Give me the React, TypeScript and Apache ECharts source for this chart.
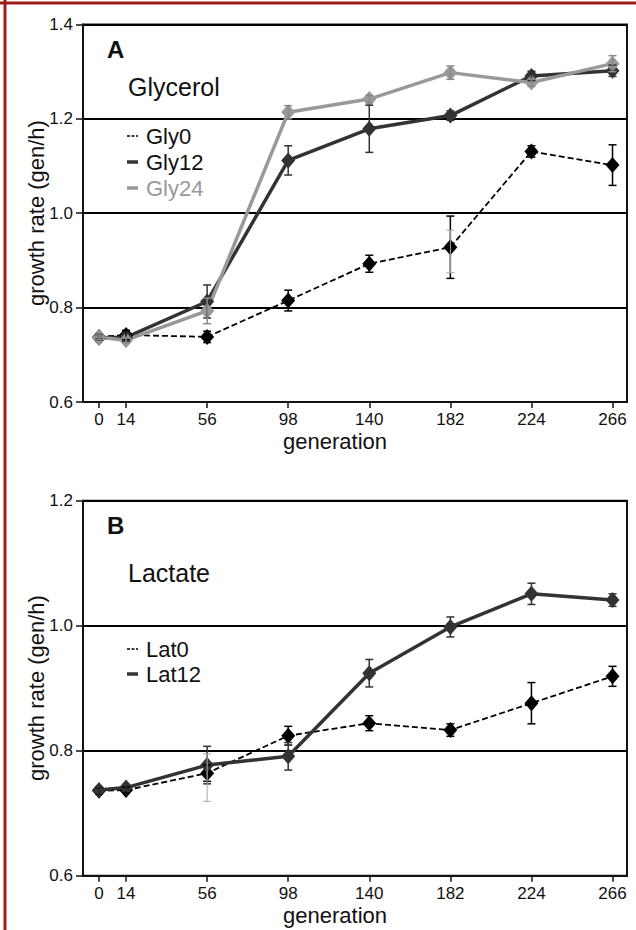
import React, { useEffect, useRef } from "react";
import * as echarts from "echarts";

const generations = [0, 14, 56, 98, 140, 182, 224, 266];
const xTickValues = [0, 14, 56, 98, 140, 182, 224, 266];

// Panel A (glycerol)
const gly0 = [0.738, 0.742, 0.738, 0.815, 0.893, 0.928, 1.131, 1.102];
const gly0Err = [0.005, 0.01, 0.012, 0.022, 0.018, 0.066, 0.012, 0.043];
const gly12 = [0.736, 0.737, 0.813, 1.112, 1.179, 1.207, 1.291, 1.302];
const gly12Err = [0.005, 0.008, 0.035, 0.031, 0.05, 0.01, 0.01, 0.012];
const gly24 = [0.737, 0.731, 0.793, 1.214, 1.242, 1.298, 1.277, 1.317];
const gly24Err = [0.005, 0.006, 0.027, 0.014, 0.008, 0.014, 0.008, 0.017];
// faint extra error bars seen in panel A
const glyExtraGen = [182];
const glyExtraLo = [0.874];
const glyExtraHi = [0.964];

// Panel B (lactate)
const lat0 = [0.736, 0.737, 0.764, 0.824, 0.844, 0.833, 0.876, 0.919];
const lat0Err = [0.005, 0.005, 0.013, 0.015, 0.012, 0.01, 0.033, 0.016];
const lat12 = [0.737, 0.741, 0.777, 0.791, 0.924, 0.998, 1.051, 1.041];
const lat12Err = [0.005, 0.005, 0.03, 0.022, 0.022, 0.016, 0.017, 0.01];
const latExtraGen = [56];
const latExtraLo = [0.719];
const latExtraHi = [0.795];

const FONT = "'Liberation Sans', Arial, sans-serif";
const DARK = "#333333";
const GRAY = "#999999";

function errData(vals: number[], errs: number[]) {
  return generations.map((g, i) => [g, vals[i] - errs[i], vals[i] + errs[i]]);
}

function errSeries(data: number[][], idx: number, color: string, width = 1.5) {
  return {
    type: "custom",
    xAxisIndex: idx,
    yAxisIndex: idx,
    z: 5,
    encode: { x: 0, y: [1, 2] },
    data,
    renderItem: (params: any, api: any) => {
      const x = api.value(0);
      const lo = api.value(1);
      const hi = api.value(2);
      const p1 = api.coord([x, hi]);
      const p2 = api.coord([x, lo]);
      const h = 4;
      const st = { stroke: color, lineWidth: width };
      return {
        type: "group",
        children: [
          { type: "line", shape: { x1: p1[0], y1: p1[1], x2: p2[0], y2: p2[1] }, style: st },
          { type: "line", shape: { x1: p1[0] - h, y1: p1[1], x2: p1[0] + h, y2: p1[1] }, style: st },
          { type: "line", shape: { x1: p2[0] - h, y1: p2[1], x2: p2[0] + h, y2: p2[1] }, style: st },
        ],
      };
    },
  };
}

function lineSeries(name: string, vals: number[], idx: number, color: string, dashed: boolean, symColor: string) {
  return {
    name,
    type: "line",
    xAxisIndex: idx,
    yAxisIndex: idx,
    data: generations.map((g, i) => [g, vals[i]]),
    symbol: "diamond",
    symbolSize: [14, 16],
    showSymbol: true,
    itemStyle: { color: symColor, borderWidth: 0 },
    lineStyle: dashed
      ? { color: "#000", width: 1.8, type: [6, 3] }
      : { color, width: 3.5 },
    z: 3,
  };
}

function txt(text: string, x: number, y: number, size: number, opts: any = {}) {
  return {
    type: "text",
    x,
    y,
    z: 10,
    rotation: opts.rotation || 0,
    style: {
      text,
      fill: opts.color || "#111",
      font: `${opts.bold ? "bold " : ""}${size}px ${FONT}`,
      align: opts.align || "left",
      verticalAlign: "middle",
    },
  };
}

function seg(x1: number, y1: number, x2: number, y2: number, color: string, w: number, dash?: number[]) {
  return {
    type: "line",
    z: 10,
    shape: { x1, y1, x2, y2 },
    style: { stroke: color, lineWidth: w, lineDash: dash },
  };
}

export default function App() {
  const ref = useRef<HTMLDivElement>(null);
  useEffect(() => {
    document.body.style.margin = "0";
    const chart = echarts.init(ref.current!, undefined, { renderer: "svg" });
    const xAxisBase = (gi: number) => ({
      type: "value",
      gridIndex: gi,
      min: -8.3,
      max: 273.5,
      axisLine: { show: true, onZero: false, lineStyle: { color: "#111", width: 2 } },
      axisTick: { show: true, customValues: xTickValues, length: 6, lineStyle: { color: "#111", width: 1.5 } },
      axisLabel: { show: true, customValues: xTickValues, margin: 9, fontSize: 17, color: "#111", fontFamily: FONT },
      splitLine: { show: false },
    });
    const yAxisBase = (gi: number, min: number, max: number) => ({
      type: "value",
      gridIndex: gi,
      min,
      max,
      interval: 0.2,
      axisLine: { show: true, onZero: false, lineStyle: { color: "#111", width: 2 } },
      axisTick: { show: true, length: 7, lineStyle: { color: "#111", width: 1.5 } },
      axisLabel: {
        margin: 10,
        fontSize: 17,
        color: "#111",
        fontFamily: FONT,
        formatter: (v: number) => v.toFixed(1),
      },
      splitLine: { show: true, lineStyle: { color: "#000", width: 2 } },
    });

    const option: any = {
      animation: false,
      backgroundColor: "#fff",
      grid: [
        { left: 83, top: 24.5, width: 544, height: 377.5, show: true, borderColor: "#111", borderWidth: 2 },
        { left: 83, top: 500.7, width: 544, height: 375, show: true, borderColor: "#111", borderWidth: 2 },
      ],
      xAxis: [xAxisBase(0), xAxisBase(1)],
      yAxis: [yAxisBase(0, 0.6, 1.4), yAxisBase(1, 0.6, 1.2)],
      series: [
        lineSeries("Gly0", gly0, 0, "#000", true, "#000"),
        lineSeries("Gly12", gly12, 0, DARK, false, DARK),
        lineSeries("Gly24", gly24, 0, GRAY, false, GRAY),
        errSeries(errData(gly0, gly0Err), 0, "#000"),
        errSeries(errData(gly12, gly12Err), 0, DARK),
        errSeries(errData(gly24, gly24Err), 0, "#8a8a8a"),
        errSeries(glyExtraGen.map((g, i) => [g, glyExtraLo[i], glyExtraHi[i]]), 0, "#aaaaaa", 1),
        lineSeries("Lat0", lat0, 1, "#000", true, "#000"),
        lineSeries("Lat12", lat12, 1, DARK, false, DARK),
        errSeries(errData(lat0, lat0Err), 1, "#000"),
        errSeries(errData(lat12, lat12Err), 1, DARK),
        errSeries(latExtraGen.map((g, i) => [g, latExtraLo[i], latExtraHi[i]]), 1, "#aaaaaa", 1),
      ],
      graphic: [
        seg(0, 3, 636, 3, "#9e1b1b", 3),
        seg(5, 0, 5, 930, "#9e1b1b", 3),
        // Panel A texts
        txt("A", 107, 49, 24, { bold: true }),
        txt("Glycerol", 128, 87, 25),
        seg(127, 136, 138, 136, "#000", 1.5, [3, 1.5]),
        txt("Gly0", 146, 136, 22),
        seg(127, 162, 138, 162, DARK, 3.5),
        txt("Gly12", 146, 162, 22),
        seg(127, 188, 138, 188, GRAY, 3.5),
        txt("Gly24", 146, 188, 22, { color: GRAY }),
        txt("growth rate (gen/h)", 36, 213, 22, { rotation: Math.PI / 2, align: "center" }),
        txt("generation", 335, 441, 22, { align: "center" }),
        // Panel B texts
        txt("B", 107, 525, 24, { bold: true }),
        txt("Lactate", 128, 573, 25),
        seg(127, 649, 138, 649, "#000", 1.5, [3, 1.5]),
        txt("Lat0", 146, 649, 22),
        seg(127, 674, 138, 674, DARK, 3.5),
        txt("Lat12", 146, 674, 22),
        txt("growth rate (gen/h)", 36, 688, 22, { rotation: Math.PI / 2, align: "center" }),
        txt("generation", 335, 915, 22, { align: "center" }),
      ],
    };
    chart.setOption(option);
    return () => chart.dispose();
  }, []);
  return <div ref={ref} style={{ width: 636, height: 930 }} />;
}
